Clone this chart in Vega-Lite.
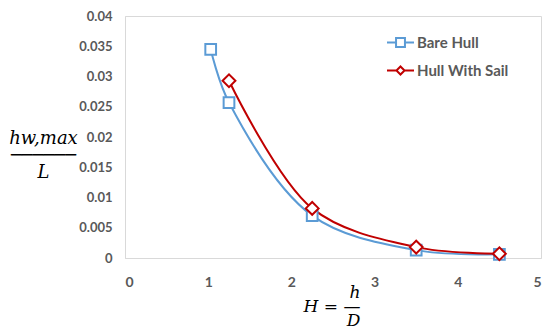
{
  "$schema": "https://vega.github.io/schema/vega-lite/v6.json",
  "width": 416,
  "height": 242,
  "autosize": {"type": "none"},
  "padding": {"left": 125, "top": 16, "right": 4, "bottom": 69},
  "background": "white",
  "config": {
    "view": {"stroke": "#d9d9d9", "strokeWidth": 1},
    "axis": {
      "grid": false,
      "ticks": false,
      "domainColor": "#d9d9d9",
      "domainWidth": 1,
      "labelFont": "Lato",
      "labelFontWeight": "bold",
      "labelColor": "#595959"
    }
  },
  "data": {
    "values": [
      {"x": 1.03, "y": 0.0345, "series": "Bare Hull"},
      {"x": 1.25, "y": 0.0257, "series": "Bare Hull"},
      {"x": 2.25, "y": 0.007, "series": "Bare Hull"},
      {"x": 3.5, "y": 0.0013, "series": "Bare Hull"},
      {"x": 4.5, "y": 0.0006, "series": "Bare Hull"},
      {"x": 1.25, "y": 0.0293, "series": "Hull With Sail"},
      {"x": 2.25, "y": 0.0082, "series": "Hull With Sail"},
      {"x": 3.5, "y": 0.0018, "series": "Hull With Sail"},
      {"x": 4.5, "y": 0.0007, "series": "Hull With Sail"}
    ]
  },
  "encoding": {
    "x": {
      "field": "x",
      "type": "quantitative",
      "scale": {"domain": [0, 5], "nice": false},
      "axis": {
        "values": [0, 1, 2, 3, 4, 5],
        "labelFontSize": 14,
        "labelPadding": 17,
        "title": ["h", "H = \u2014", "D"],
        "titleFont": "DejaVu Serif",
        "titleFontStyle": "italic",
        "titleFontWeight": "normal",
        "titleFontSize": 17,
        "titleColor": "#000000",
        "titleAlign": "right",
        "titleBaseline": "top",
        "titleLineHeight": 14,
        "titleX": 235,
        "titleY": 26
      }
    },
    "y": {
      "field": "y",
      "type": "quantitative",
      "scale": {"domain": [0, 0.04], "nice": false},
      "axis": {
        "values": [0, 0.005, 0.01, 0.015, 0.02, 0.025, 0.03, 0.035, 0.04],
        "labelExpr": "'' + datum.value",
        "labelFontSize": 13,
        "labelPadding": 13,
        "title": ["hw,max", "\u2500\u2500\u2500\u2500\u2500\u2500", "L"],
        "titleFont": "DejaVu Serif",
        "titleFontStyle": "italic",
        "titleFontWeight": "normal",
        "titleFontSize": 18,
        "titleColor": "#000000",
        "titleAngle": 0,
        "titleAlign": "center",
        "titleBaseline": "top",
        "titleLineHeight": 17,
        "titleX": -82,
        "titleY": 113
      }
    },
    "color": {
      "field": "series",
      "type": "nominal",
      "scale": {"domain": ["Bare Hull", "Hull With Sail"], "range": ["#5B9BD5", "#C00000"]},
      "legend": {
        "title": null,
        "orient": "none",
        "legendX": 261,
        "legendY": 12,
        "symbolSize": 729,
        "symbolStrokeWidth": 2,
        "labelFont": "Lato",
        "labelFontWeight": "bold",
        "labelFontSize": 15,
        "labelColor": "#595959",
        "labelOffset": 2,
        "rowPadding": 5,
        "encode": {
          "symbols": {
            "update": {
              "shape": {"signal": "datum.value === 'Bare Hull' ? 'M-1,0H-0.33M0.33,0H1M-0.33,-0.33H0.33V0.33H-0.33Z' : 'M-1,0H-0.3M0.3,0H1M0,-0.3L0.3,0L0,0.3L-0.3,0Z'"},
              "fill": {"value": "white"},
              "fillOpacity": {"value": 1},
              "strokeWidth": {"value": 2},
              "opacity": {"value": 1}
            }
          }
        }
      }
    }
  },
  "layer": [
    {
      "mark": {"type": "line", "interpolate": "catmull-rom", "strokeWidth": 2}
    },
    {
      "transform": [{"filter": "datum.series === 'Bare Hull'"}],
      "mark": {"type": "point", "shape": "square", "size": 115, "filled": false, "fill": "white", "fillOpacity": 1, "opacity": 1, "strokeWidth": 2}
    },
    {
      "transform": [{"filter": "datum.series === 'Hull With Sail'"}],
      "mark": {"type": "point", "shape": "diamond", "size": 165, "filled": false, "fill": "white", "fillOpacity": 1, "opacity": 1, "strokeWidth": 2}
    }
  ]
}
